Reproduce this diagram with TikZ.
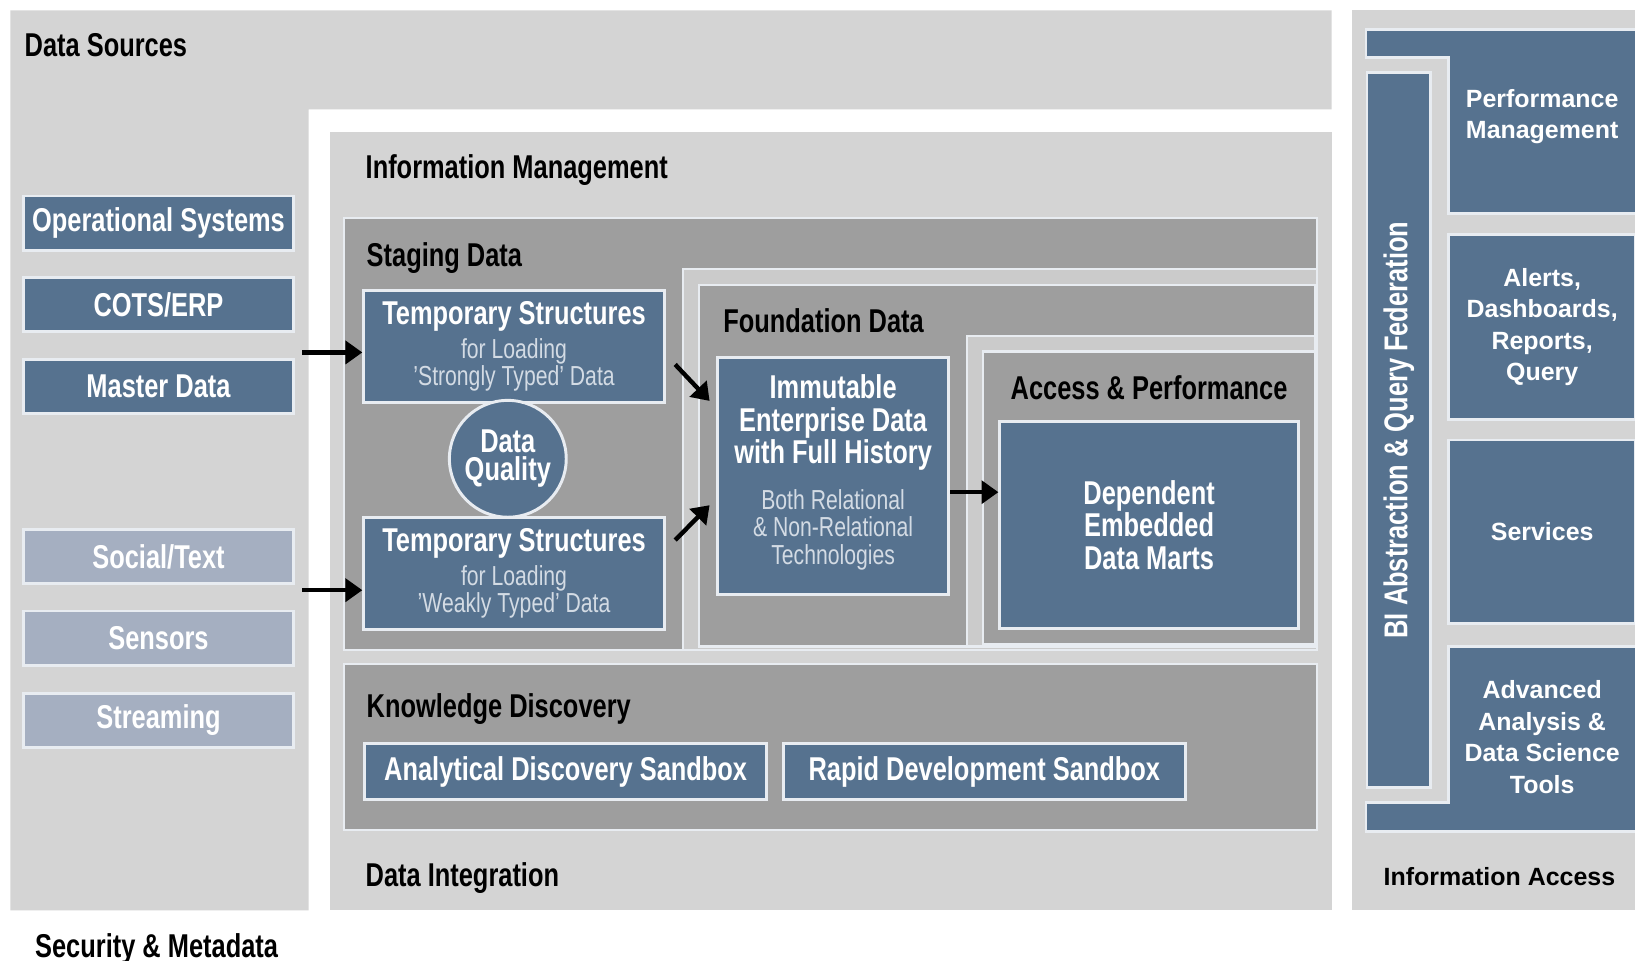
\documentclass[tikz,border=0pt]{standalone}
\usepackage{fontspec}
\setmainfont{Liberation Sans}[FakeStretch=0.77]
\newfontfamily\widefont{Liberation Sans}
\usetikzlibrary{arrows.meta}

\definecolor{paneGray}{HTML}{D4D4D4}
\definecolor{stageGray}{HTML}{9E9E9E}
\definecolor{stripGray}{HTML}{CBCBCB}
\definecolor{boxBlue}{HTML}{56728F}
\definecolor{paleBlue}{HTML}{A5AFC1}
\definecolor{softText}{HTML}{D3DBE4}
\definecolor{edgeLine}{HTML}{E8ECF1}

\newcommand{\regionfont}{\fontsize{9}{10}\selectfont\bfseries}
\newcommand{\blockfont}{\fontsize{9}{8.8}\selectfont\bfseries\lineskiplimit=-20pt}
\newcommand{\notefont}{\fontsize{7.5}{7.5}\selectfont\lineskiplimit=-20pt}
\newcommand{\accessfont}{\widefont\fontsize{6.8}{8.6}\selectfont\bfseries\lineskiplimit=-20pt}

\tikzset{
  panel/.style={draw=edgeLine, line width=0.6pt},
  bluebox/.style={fill=boxBlue, draw=edgeLine, line width=0.8pt, inner sep=0pt, text=white},
  srcbox/.style={bluebox, minimum width=2.58cm, minimum height=0.52cm, font=\blockfont},
  tempbox/.style={bluebox, minimum width=2.88cm, minimum height=1.07cm, align=center, font=\notefont, text=softText},
  sandbox/.style={bluebox, minimum width=3.85cm, minimum height=0.54cm, font=\blockfont},
  accbox/.style={bluebox, minimum width=1.79cm, align=center, font=\accessfont},
  title/.style={anchor=base west, inner sep=0pt, font=\regionfont},
  arr/.style={-{Triangle[length=4.6pt,width=6.2pt]}, line width=1.2pt, black}
}

\begin{document}
\begin{tikzpicture}[x=0.01cm, y=-0.01cm]

    \useasboundingbox (0,0) rectangle (1568,921);
    \fill[white] (0,0) rectangle (1568,921);

    \fill[paneGray] (10,10) -- (1277,10) -- (1277,105) -- (296,105)
        -- (296,873) -- (10,873) -- cycle;
    \fill[paneGray] (316,127) rectangle (1277,873);
    \fill[paneGray] (1297,10) rectangle (1568,873);

    \filldraw[stageGray, panel] (330,209) rectangle (1263,623);
    \filldraw[stripGray, panel] (655,258) rectangle (1263,623);
    \filldraw[stageGray, panel] (670,273) rectangle (1261,620);
    \filldraw[stripGray, panel] (927,322) rectangle (1261,620);
    \filldraw[stageGray, panel] (943,337) rectangle (1261,618);
    \filldraw[stageGray, panel] (330,637) rectangle (1263,796);

    \node[title] (dsrc) at (23,54) {Data Sources};
    \node[title] (imgmt) at (350,171) {Information Management};
    \node[title] (staging) at (351,256) {Staging Data};
    \node[title] (found) at (693,319) {Foundation Data};
    \node[title, anchor=base] (access) at (1102,383) {Access \& Performance};
    \node[title] (knowl) at (351,688) {Knowledge Discovery};
    \node[title] (dint) at (350,850) {Data Integration};
    \node[title] (secmeta) at (33,918) {Security \& Metadata};

    \foreach \name/\txt/\y/\col in {ops/Operational Systems/214/boxBlue,
                                   cots/{COTS/ERP}/292/boxBlue,
                                   master/Master Data/370.5/boxBlue,
                                   social/{Social/Text}/534/paleBlue,
                                   sensors/Sensors/612/paleBlue,
                                   streaming/Streaming/691/paleBlue}{%
        \node[srcbox, fill=\col] (\name) at (152,\y) {\txt};
    }

    \node[tempbox] (temp1) at (493,332.5)
        {{\blockfont\color{white}Temporary Structures}\\[1.7pt]for Loading\\'Strongly Typed' Data};
    \node[tempbox] (temp2) at (493,550)
        {{\blockfont\color{white}Temporary Structures}\\[1.7pt]for Loading\\'Weakly Typed' Data};
    \node[bluebox, circle, minimum size=1.12cm, align=center, font=\blockfont] (quality)
        at (487,440) {Data\\[-1.1pt]Quality};

    \node[bluebox, minimum width=2.22cm, minimum height=2.27cm, align=center,
          font=\notefont, text=softText] (immut) at (799,456.5)
        {{\blockfont\color{white}Immutable}\\[1.3pt]
         {\blockfont\color{white}Enterprise Data}\\[1.3pt]
         {\blockfont\color{white}with Full History}\\[5pt]
         Both Relational\\\& Non-Relational\\Technologies\\[-4pt]\mbox{}};
    \node[bluebox, minimum width=2.86cm, minimum height=1.99cm, align=center,
          font=\blockfont] (marts) at (1102,503.5) {Dependent\\Embedded\\Data Marts};

    \node[sandbox] (adsb) at (542.5,740) {Analytical Discovery Sandbox};
    \node[sandbox] (rdsb) at (944,740) {Rapid Development Sandbox};

    \coordinate (in1) at (290,338);
    \coordinate (in2) at (290,566);
    \draw[arr] (in1) -- (in1 -| temp1.west);
    \draw[arr] (in2) -- (in2 -| temp2.west);
    \draw[arr] ([shift={(9,17)}]temp1.east) -- ([shift={(-6,-72)}]immut.west);
    \draw[arr] ([shift={(9,-32)}]temp2.east) -- ([shift={(-6,28)}]immut.west);
    \draw[arr] ([yshift=-0.155cm]immut.east) coordinate (out1) -- (out1 -| marts.west);

    \filldraw[boxBlue, draw=edgeLine, line width=0.8pt] (1310,28) -- (1570,28) -- (1570,205)
        -- (1389,205) -- (1389,55) -- (1310,55) -- cycle;
    \filldraw[boxBlue, draw=edgeLine, line width=0.8pt] (1389,620) -- (1570,620) -- (1570,797)
        -- (1310,797) -- (1310,770) -- (1389,770) -- cycle;
    \node[bluebox, rotate=90, minimum width=6.85cm, minimum height=0.61cm, font=\blockfont]
        (biaf) at (1341.5,412.5) {BI Abstraction \& Query Federation};
    \node[align=center, font=\accessfont, text=white] (perf) at (1479,112)
        {Performance\\Management};
    \node[accbox, minimum height=1.77cm] (alerts) at (1479,313.5)
        {Alerts,\\Dashboards,\\Reports,\\Query};
    \node[accbox, minimum height=1.76cm] (services) at (1479,510) {Services};
    \node[align=center, font=\accessfont, text=white] (advanced) at (1479,707)
        {Advanced\\Analysis \&\\Data Science\\Tools};
    \node[font=\accessfont] (iaccess) at (1438,841) {Information Access};

\end{tikzpicture}
\end{document}
